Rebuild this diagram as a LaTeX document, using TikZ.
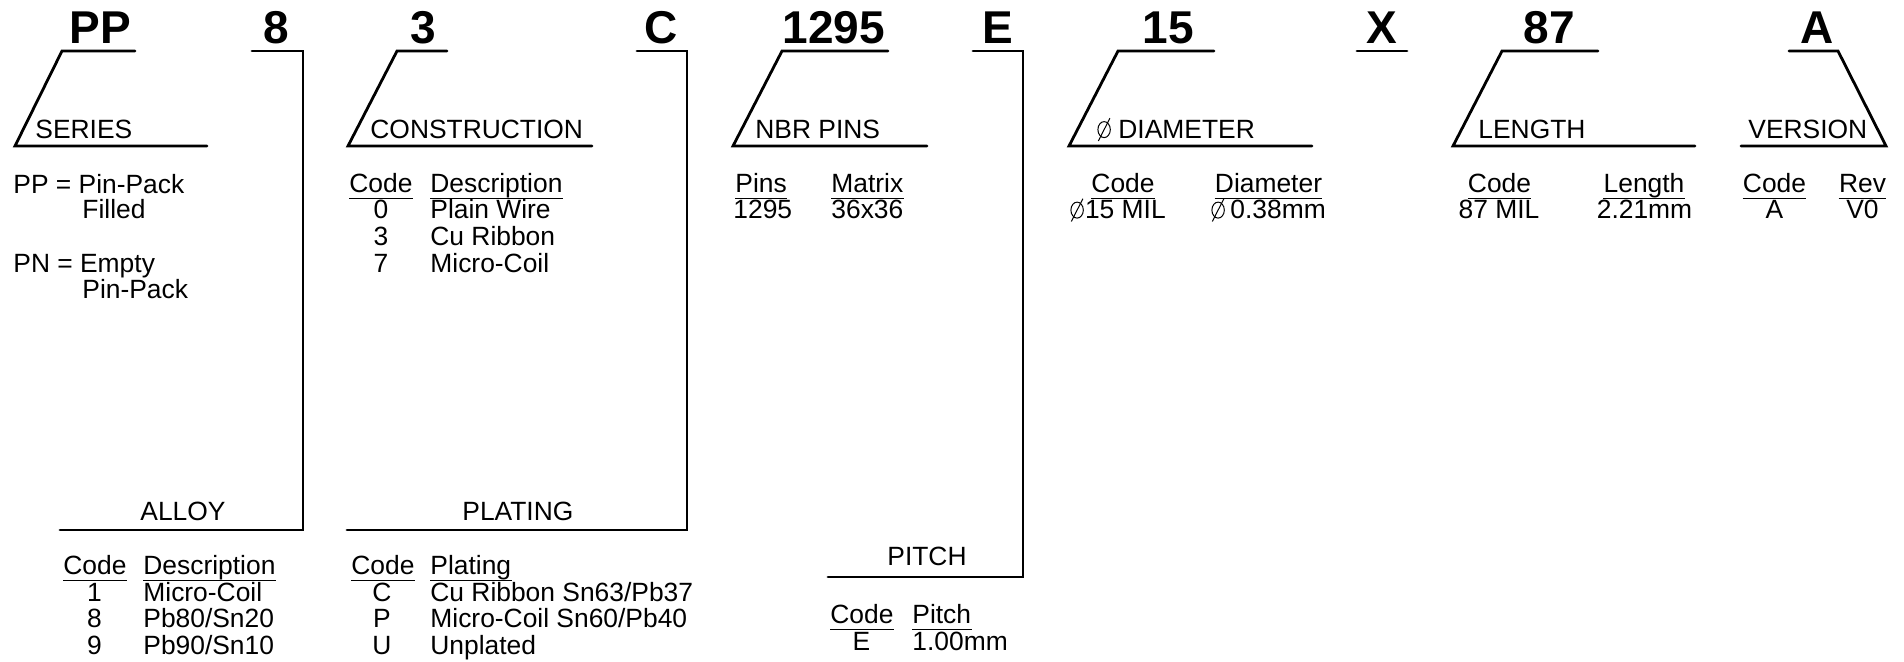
\documentclass[tikz,border=0pt]{standalone}
\usepackage{fontspec}
\setmainfont{Liberation Sans}
\newcommand\diasym{\tikz[baseline=0pt,x=1pt,y=1pt]{\draw[line width=0.5pt] (3.4,4.2) ellipse [x radius=3.1, y radius=4.0]; \draw[line width=0.5pt] (0.5,-1.5) -- (6.3,9.9);}}
\tikzset{
  big/.style={font=\fontsize{23}{27}\selectfont\bfseries, anchor=base, inner sep=0pt},
  txt/.style={font=\fontsize{13.2}{15}\selectfont, anchor=base west, inner sep=0pt},
  ctxt/.style={txt, anchor=base},
  frame/.style={line width=1.4pt, line cap=round, line join=miter},
  uline/.style={line width=0.55pt},
}
\newcommand\uln[1]{\draw[uline] ([yshift=-3.4pt]#1.base west) -- ([yshift=-3.4pt]#1.base east);}
\begin{document}
\begin{tikzpicture}[x=0.5pt,y=-0.5pt]
\useasboundingbox (0,0) rectangle (1904,661);
% big code letters
\node[big] (bPP) at (100,43) {PP};
\node[big] (b8) at (276.5,43) {8};
\node[big] (b3) at (423.5,43) {3};
\node[big] (bC) at (661,43) {C};
\node[big] (b1295) at (834,43) {1295};
\node[big] (bE) at (997.5,43) {E};
\node[big] (b15) at (1168,43) {15};
\node[big] (bX) at (1381.5,43) {X};
\node[big] (b87) at (1549.5,43) {87};
\node[big] (bA) at (1817,43) {A};
% frames
\draw[frame] (135,51) -- (62,51) -- (15,146) -- (207,146);
\draw[frame] (252,51) -- (303,51) -- (303,530) -- (60,530);
\draw[frame] (447,51) -- (397,51) -- (348,146) -- (592,146);
\draw[frame] (637,51) -- (687,51) -- (687,530) -- (347,530);
\draw[frame] (888,51) -- (782,51) -- (733,146) -- (927,146);
\draw[frame] (973,51) -- (1023,51) -- (1023,577) -- (828,577);
\draw[frame] (1214,51) -- (1118,51) -- (1069,146) -- (1312,146);
\draw[frame] (1357,51) -- (1407,51);
\draw[frame] (1598,51) -- (1502,51) -- (1453,146) -- (1695,146);
\draw[frame] (1789,51) -- (1838,51) -- (1886,146) -- (1741,146);
% category labels
\node[txt] (lSeries) at (35,138) {SERIES};
\node[txt] (lCons) at (370,138) {CONSTRUCTION};
\node[txt] (lNbr) at (755,138) {NBR PINS};
\node[txt] (lDiaSym) at (1097,138) {\diasym};
\node[txt] (lDia) at (1118,138) {DIAMETER};
\node[txt] (lLen) at (1478,138) {LENGTH};
\node[txt] (lVer) at (1748,138) {VERSION};
\node[txt] (lAlloy) at (140,520) {ALLOY};
\node[txt] (lPlat) at (462,520) {PLATING};
\node[txt] (lPitch) at (887,565) {PITCH};
% series
\node[txt] (s1) at (13,193) {PP = Pin-Pack};
\node[txt] (s2) at (82,218.5) {Filled};
\node[txt] (s3) at (13,272) {PN = Empty};
\node[txt] (s4) at (82,298) {Pin-Pack};
% construction
\node[txt] (cH1) at (349,192) {Code};
\node[txt] (cH2) at (430,192) {Description};
\uln{cH1}\uln{cH2}
\node[ctxt] (c1a) at (381,218.5) {0};
\node[ctxt] (c2a) at (381,245.5) {3};
\node[ctxt] (c3a) at (381,272.5) {7};
\node[txt] (c1b) at (430,218.5) {Plain Wire};
\node[txt] (c2b) at (430,245.5) {Cu Ribbon};
\node[txt] (c3b) at (430,272.5) {Micro-Coil};
% nbr pins
\node[txt] (nH1) at (735,192) {Pins};
\node[txt] (nH2) at (831,192) {Matrix};
\uln{nH1}\uln{nH2}
\node[txt] (n1a) at (733,218.5) {1295};
\node[txt] (n1b) at (831,218.5) {36x36};
% diameter
\node[ctxt] (dH1) at (1123,192) {Code};
\node[ctxt] (dH2) at (1268.5,192) {Diameter};
\uln{dH1}\uln{dH2}
\node[txt] (d1a) at (1070,218.5) {\diasym\hspace{0.6pt}15 MIL};
\node[txt] (d1b) at (1211,218.5) {\diasym\hspace{2.8pt}0.38mm};
% length
\node[ctxt] (gH1) at (1499.5,192) {Code};
\node[ctxt] (gH2) at (1644,192) {Length};
\uln{gH1}\uln{gH2}
\node[ctxt] (g1a) at (1499,218.5) {87 MIL};
\node[ctxt] (g1b) at (1644.5,218.5) {2.21mm};
% version
\node[ctxt] (vH1) at (1774.5,192) {Code};
\node[ctxt] (vH2) at (1862.5,192) {Rev};
\uln{vH1}\uln{vH2}
\node[ctxt] (v1a) at (1774.5,218.5) {A};
\node[ctxt] (v1b) at (1862.5,218.5) {V0};
% alloy
\node[txt] (aH1) at (63,574) {Code};
\node[txt] (aH2) at (143,574) {Description};
\uln{aH1}\uln{aH2}
\node[ctxt] (a1a) at (94.5,601) {1};
\node[ctxt] (a2a) at (94.5,627.5) {8};
\node[ctxt] (a3a) at (94.5,654) {9};
\node[txt] (a1b) at (143,601) {Micro-Coil};
\node[txt] (a2b) at (143,627.5) {Pb80/Sn20};
\node[txt] (a3b) at (143,654) {Pb90/Sn10};
% plating
\node[txt] (pH1) at (351,574) {Code};
\node[txt] (pH2) at (430,574) {Plating};
\uln{pH1}\uln{pH2}
\node[ctxt] (p1a) at (382,601) {C};
\node[ctxt] (p2a) at (382,627.5) {P};
\node[ctxt] (p3a) at (382,654) {U};
\node[txt] (p1b) at (430,601) {Cu Ribbon Sn63/Pb37};
\node[txt] (p2b) at (430,627.5) {Micro-Coil Sn60/Pb40};
\node[txt] (p3b) at (430,654) {Unplated};
% pitch
\node[txt] (tH1) at (830,623) {Code};
\node[txt] (tH2) at (912,623) {Pitch};
\uln{tH1}\uln{tH2}
\node[ctxt] (t1a) at (861.5,650) {E};
\node[txt] (t1b) at (912,650) {1.00mm};
\end{tikzpicture}
\end{document}
